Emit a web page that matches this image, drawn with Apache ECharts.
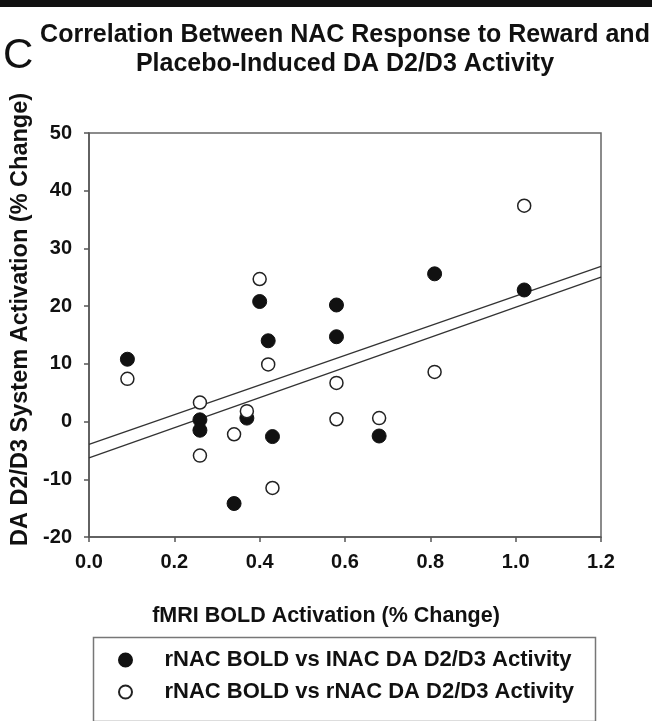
<!DOCTYPE html>
<html>
<head>
<meta charset="utf-8">
<script src="https://cdn.jsdelivr.net/npm/echarts@6/dist/echarts.min.js"></script>
<style>
html,body{margin:0;padding:0;background:#fff;}
#chart{width:652px;height:721px;}
</style>
</head>
<body>
<div id="chart"></div>
<script>
// rNAC BOLD activation (% change), one value per subject
const boldChange = [0.09, 0.26, 0.26, 0.34, 0.37, 0.40, 0.42, 0.43, 0.58, 0.58, 0.68, 0.81, 1.02];
// lNAC DA D2/D3 activation (% change), filled circles
const lnacActivation = [10.8, 0.3, -1.5, -14.2, 0.6, 20.8, 14.0, -2.6, 20.2, 14.7, -2.5, 25.6, 22.8];
// rNAC DA D2/D3 activation (% change), open circles
const rnacActivation = [7.4, 3.3, -5.9, -2.2, 1.8, 24.7, 9.9, -11.5, 6.7, 0.4, 0.6, 8.6, 37.4];

const seriesNames = ['rNAC BOLD vs INAC DA D2/D3 Activity', 'rNAC BOLD vs rNAC DA D2/D3 Activity'];
const xTicks = [0, 1.2, 0.2];   // min, max, step
const yTicks = [-20, 50, 10];

function pairs(xs, ys) { return xs.map((x, i) => [x, ys[i]]); }
function fit(xs, ys) {
  const n = xs.length;
  const mx = xs.reduce((a, b) => a + b, 0) / n;
  const my = ys.reduce((a, b) => a + b, 0) / n;
  let sxy = 0, sxx = 0;
  for (let i = 0; i < n; i++) { sxy += (xs[i] - mx) * (ys[i] - my); sxx += (xs[i] - mx) ** 2; }
  const b = sxy / sxx, a = my - b * mx;
  return [[xTicks[0], a + b * xTicks[0]], [xTicks[1], a + b * xTicks[1]]];
}

const FONT = '"Liberation Sans", Arial, sans-serif';
const chart = echarts.init(document.getElementById('chart'), null, {renderer: 'canvas'});
chart.setOption({
  animation: false,
  backgroundColor: '#fff',
  title: {
    text: 'Correlation Between NAC Response to Reward and\nPlacebo-Induced DA D2/D3 Activity',
    left: 340, top: 16, textAlign: 'center',
    textStyle: {fontFamily: FONT, fontSize: 25, fontWeight: 'bold', color: '#111', lineHeight: 29}
  },
  graphic: [
    {type: 'rect', left: 0, top: 0, shape: {width: 652, height: 7}, style: {fill: '#111'}},
    {type: 'text', left: 3, top: 35, style: {text: 'C', fontFamily: FONT, fontSize: 42, fill: '#111'}},
    {type: 'rect', left: 91, top: 635, shape: {width: 502, height: 84}, style: {fill: 'none', stroke: '#777', lineWidth: 1.5}}
  ],
  grid: {left: 89, top: 133, width: 512, height: 404, containLabel: false, outerBoundsMode: 'none',
         show: true, borderColor: '#666', borderWidth: 1.5, backgroundColor: 'transparent'},
  legend: {
    orient: 'vertical', left: 113, top: 644, itemWidth: 68, itemHeight: 13, itemGap: 10,
    data: seriesNames,
    textStyle: {fontFamily: FONT, fontSize: 22, fontWeight: 'bold', color: '#111'}
  },
  xAxis: {
    type: 'value', min: xTicks[0], max: xTicks[1], interval: xTicks[2],
    name: 'fMRI BOLD Activation (% Change)', nameLocation: 'middle', nameGap: 68,
    nameTextStyle: {fontFamily: FONT, fontSize: 21.5, fontWeight: 'bold', color: '#111', padding: [0, 38, 0, 0]},
    axisLine: {onZero: false, lineStyle: {color: '#555', width: 1.5}},
    axisTick: {length: 5, lineStyle: {color: '#555', width: 1.5}},
    axisLabel: {margin: 15, fontFamily: FONT, fontSize: 20, fontWeight: 'bold', color: '#111', formatter: v => v.toFixed(1)},
    splitLine: {show: false}
  },
  yAxis: {
    type: 'value', min: yTicks[0], max: yTicks[1], interval: yTicks[2],
    name: 'DA D2/D3 System Activation (% Change)', nameLocation: 'middle', nameGap: 51, nameRotate: 90,
    nameTextStyle: {fontFamily: FONT, fontSize: 23.5, fontWeight: 'bold', color: '#111', padding: [0, 0, 0, 31]},
    axisLine: {onZero: false, lineStyle: {color: '#555', width: 1.5}},
    axisTick: {length: 5, lineStyle: {color: '#555', width: 1.5}},
    axisLabel: {margin: 17, fontFamily: FONT, fontSize: 20, fontWeight: 'bold', color: '#111'},
    splitLine: {show: false}
  },
  series: [
    {type: 'line', data: fit(boldChange, lnacActivation), showSymbol: false, symbol: 'none', z: 1,
     lineStyle: {color: '#333', width: 1.3}, silent: true},
    {type: 'line', data: fit(boldChange, rnacActivation), showSymbol: false, symbol: 'none', z: 1,
     lineStyle: {color: '#333', width: 1.3}, silent: true},
    {name: seriesNames[0], type: 'scatter', data: pairs(boldChange, lnacActivation), symbol: 'circle', symbolSize: 14, z: 3,
     itemStyle: {color: '#111', borderColor: '#111', borderWidth: 1, opacity: 1}},
    {name: seriesNames[1], type: 'scatter', data: pairs(boldChange, rnacActivation), symbol: 'circle', symbolSize: 13, z: 4,
     itemStyle: {color: '#fff', borderColor: '#222', borderWidth: 1.5, opacity: 1}}
  ]
});
</script>
</body>
</html>
